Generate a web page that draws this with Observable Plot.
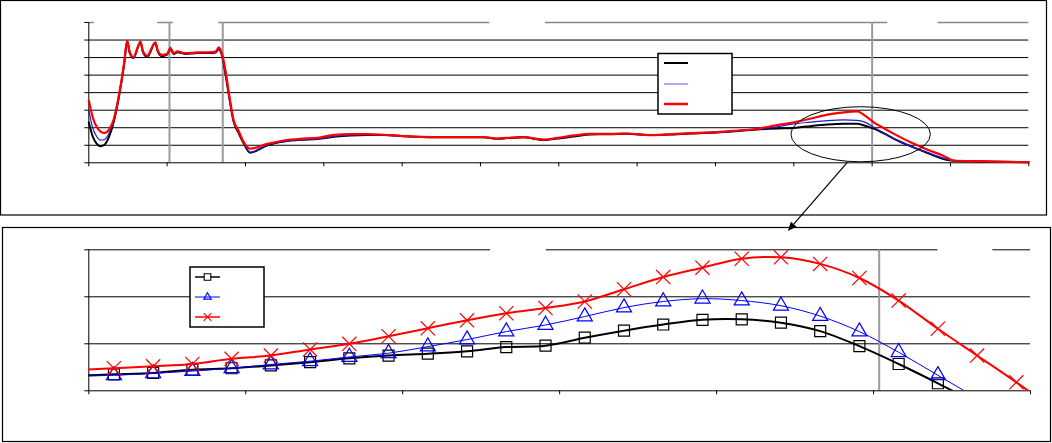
<!DOCTYPE html>
<html><head><meta charset="utf-8">
<script src="https://cdn.jsdelivr.net/npm/d3@7"></script>
<script src="https://cdn.jsdelivr.net/npm/@observablehq/plot@0.6"></script>
<style>
body{margin:0;background:#fff;}
#wrap{position:relative;width:1052px;height:443px;overflow:hidden;background:#fff;font-family:"Liberation Sans",Arial,sans-serif;}
</style></head><body><div id="wrap"></div>
<script>
// ---------- top panel (overview) ----------
const topX = [
  0, 0.05, 0.10, 0.15, 0.20, 0.26, 0.32, 0.38, 0.45, 0.49, 0.52,
  0.57, 0.66, 0.69, 0.745, 0.85, 0.88, 0.93, 1.0, 1.04, 1.085, 1.13, 1.23,
  1.32, 1.40, 1.53, 1.62, 1.66, 1.70, 1.745, 1.79, 1.85, 1.91,
  1.98, 2.06, 2.28, 2.49, 2.70, 2.92, 3.13, 3.34, 3.55, 3.77,
  3.98, 4.40, 4.83, 5.04, 5.21, 5.34, 5.55, 5.81, 5.98, 6.19,
  6.40, 6.66, 6.87, 7.17, 7.40, 7.68, 8.11, 8.53, 8.79, 9.00,
  9.21, 9.43, 9.64, 9.81, 9.90, 10.02, 10.15, 10.28, 10.49, 10.70,
  10.92, 11.04, 11.34, 12.0];
const topRed = [
  3.55, 2.60, 2.05, 1.78, 1.70, 1.90, 2.50, 3.74, 5.64, 6.97, 6.35,
  6.02, 6.91, 6.38, 6.11, 6.87, 6.40, 6.15, 6.21, 6.55, 6.25, 6.36, 6.25,
  6.27, 6.30, 6.30, 6.34, 6.59, 6.21, 5.26, 3.93, 2.41, 1.84,
  1.17, 0.80, 1.08, 1.27, 1.37, 1.42, 1.59, 1.63, 1.63, 1.60,
  1.54, 1.46, 1.46, 1.46, 1.38, 1.42, 1.46, 1.33, 1.42, 1.56,
  1.65, 1.65, 1.67, 1.58, 1.62, 1.69, 1.78, 1.94, 2.15, 2.31,
  2.51, 2.75, 2.88, 2.93, 2.72, 2.31, 1.97, 1.65, 1.17, 0.76,
  0.38, 0.13, 0.09, 0.03];
const topBlue = [
  2.98, 2.00, 1.50, 1.29, 1.33, 1.70, 2.45, 3.70, 5.60, 6.95, 6.32,
  6.00, 6.90, 6.35, 6.06, 6.85, 6.37, 6.10, 6.18, 6.50, 6.22, 6.32, 6.22,
  6.24, 6.27, 6.27, 6.30, 6.52, 6.15, 5.10, 3.85, 2.35, 1.75,
  1.10, 0.60, 1.02, 1.22, 1.32, 1.36, 1.50, 1.57, 1.60, 1.58,
  1.53, 1.46, 1.45, 1.45, 1.37, 1.41, 1.45, 1.31, 1.40, 1.52,
  1.63, 1.64, 1.66, 1.58, 1.61, 1.67, 1.75, 1.90, 2.05, 2.22,
  2.32, 2.41, 2.45, 2.42, 2.33, 2.03, 1.70, 1.37, 0.95, 0.60,
  0.25, 0.12, 0.08, 0.03];
const topBlack = [
  2.31, 1.50, 1.10, 0.95, 1.02, 1.50, 2.35, 3.65, 5.58, 6.94, 6.30,
  5.98, 6.88, 6.33, 6.04, 6.84, 6.35, 6.08, 6.17, 6.48, 6.21, 6.30, 6.21,
  6.23, 6.26, 6.26, 6.29, 6.48, 6.12, 5.05, 3.80, 2.32, 1.72,
  1.08, 0.58, 1.00, 1.21, 1.31, 1.35, 1.48, 1.56, 1.59, 1.58,
  1.53, 1.46, 1.45, 1.45, 1.37, 1.41, 1.45, 1.30, 1.38, 1.50,
  1.62, 1.63, 1.66, 1.58, 1.61, 1.67, 1.75, 1.90, 1.96, 1.99,
  2.09, 2.18, 2.22, 2.22, 2.13, 1.95, 1.68, 1.37, 0.95, 0.57,
  0.20, 0.12, 0.08, 0.03];
const topXTicks = [0,1,2,3,4,5,6,7,8,9,10,11,12];
const topYTicks = [0,1,2,3,4,5,6,7,8];
const topGrid = [1,2,3,4,5,6,7];
const topDividers = [1.03, 1.71, 10];
const topTopStart = [0, 0.88, 1.66, 5.83, 10.84];
const topTopEnd = [0.073, 1.08, 5.12, 10.20, 12];

// ---------- bottom panel (zoom) ----------
const zoomX = [-0.09, 0.16, 0.41, 0.66, 0.91, 1.16, 1.41, 1.66, 1.91, 2.16, 2.41, 2.66, 2.91,
  3.16, 3.41, 3.66, 3.91, 4.16, 4.41, 4.66, 4.91, 5.16, 5.41, 5.66, 5.91, 6.16];
const zoomBlack = [0.32, 0.35, 0.38, 0.45, 0.48, 0.54, 0.61, 0.69, 0.75, 0.79, 0.84, 0.93, 0.96,
  1.13, 1.28, 1.41, 1.51, 1.52, 1.45, 1.27, 0.95, 0.57, 0.16, -0.27, -0.70, -1.10];
const zoomBlue = [0.31, 0.33, 0.37, 0.42, 0.48, 0.56, 0.63, 0.72, 0.80, 0.94, 1.09, 1.26, 1.40,
  1.58, 1.77, 1.90, 1.96, 1.92, 1.81, 1.59, 1.26, 0.82, 0.33, -0.16, -0.65, -1.10];
const zoomRed = [0.44, 0.48, 0.52, 0.57, 0.68, 0.75, 0.88, 1.00, 1.16, 1.33, 1.50, 1.65, 1.76,
  1.90, 2.16, 2.42, 2.62, 2.81, 2.84, 2.70, 2.40, 1.92, 1.32, 0.75, 0.18, -0.42];
const zoomXTicks = [0,1,2,3,4,5,6];
const zoomYTicks = [0,1,2,3];
const zoomGrid = [1,2];
const zoomDividers = [5.036];
const zoomTopStart = [0, 2.915, 5.76];
const zoomTopEnd = [2.56, 5.41, 6];

const colBlack = "#000000", colBlue = "#0000ff", colRed = "#ff0000";

const wrap = document.getElementById("wrap");

const rows = (xs, ys) => xs.map((x, i) => ({x, y: ys[i]}));
const segs = (s, e, y) => s.map((v, i) => ({x1: v, x2: e[i], y}));

const topPlot = Plot.plot({
  width: 1052, height: 215,
  marginLeft: 88.3, marginRight: 23.7, marginTop: 22, marginBottom: 52.7,
  x: {domain: [0, 12]},
  y: {domain: [0, 8]},
  marks: [
    Plot.ruleY(topGrid, {stroke: "#000", strokeWidth: 1}),
    Plot.ruleY(segs(topTopStart, topTopEnd, 8), {x1: "x1", x2: "x2", y: "y", stroke: "#888", strokeWidth: 1.5}),
    Plot.ruleX(topDividers, {stroke: "#9a9a9a", strokeWidth: 2}),
    Plot.ruleX([0], {stroke: "#000"}),
    Plot.ruleY([0], {stroke: "#000"}),
    Plot.axisY({ticks: topYTicks, tickSize: 4, fill: "none", stroke: "#000"}),
    Plot.axisX({ticks: topXTicks, tickSize: 4, fill: "none", stroke: "#000"}),
    Plot.line(rows(topX, topBlack), {x: "x", y: "y", stroke: colBlack, strokeWidth: 2, curve: "monotone-x"}),
    Plot.line(rows(topX, topBlue), {x: "x", y: "y", stroke: "#1a1ad8", strokeWidth: 1.2, curve: "monotone-x"}),
    Plot.line(rows(topX, topRed), {x: "x", y: "y", stroke: colRed, strokeWidth: 2.2, curve: "monotone-x"})
  ]
});
topPlot.style.position = "absolute";
topPlot.style.left = "0px";
topPlot.style.top = "0px";
topPlot.style.background = "transparent";
wrap.appendChild(topPlot);

const inDomain = d => d.x >= 0 && d.x <= 6 && d.y >= 0;
const bottomPlot = Plot.plot({
  width: 1052, height: 216,
  marginLeft: 88.3, marginRight: 22, marginTop: 22.3, marginBottom: 52.7,
  x: {domain: [0, 6]},
  y: {domain: [0, 3]},
  marks: [
    Plot.ruleY(zoomGrid, {stroke: "#000", strokeWidth: 1}),
    Plot.ruleY(segs(zoomTopStart, zoomTopEnd, 3), {x1: "x1", x2: "x2", y: "y", stroke: "#000", strokeWidth: 1}),
    Plot.ruleX(zoomDividers, {stroke: "#9a9a9a", strokeWidth: 2}),
    Plot.ruleX([0], {stroke: "#000"}),
    Plot.ruleY([0], {stroke: "#000"}),
    Plot.axisY({ticks: zoomYTicks, tickSize: 4, fill: "none", stroke: "#000"}),
    Plot.axisX({ticks: zoomXTicks, tickSize: 4, fill: "none", stroke: "#000"}),
    Plot.line(rows(zoomX, zoomBlack), {x: "x", y: "y", stroke: colBlack, strokeWidth: 2, curve: "catmull-rom", clip: true}),
    Plot.dot(rows(zoomX, zoomBlack).filter(inDomain), {x: "x", y: "y", symbol: "square", r: 6.2, stroke: colBlack, strokeWidth: 1.2, fill: "none"}),
    Plot.line(rows(zoomX, zoomBlue), {x: "x", y: "y", stroke: colBlue, strokeWidth: 1, curve: "catmull-rom", clip: true}),
    Plot.dot(rows(zoomX, zoomBlue).filter(inDomain), {x: "x", y: "y", symbol: "triangle", r: 5.6, stroke: colBlue, strokeWidth: 1.2, fill: "none"}),
    Plot.line(rows(zoomX, zoomRed), {x: "x", y: "y", stroke: colRed, strokeWidth: 2, curve: "catmull-rom", clip: true}),
    Plot.dot(rows(zoomX, zoomRed).filter(inDomain), {x: "x", y: "y", symbol: "times", r: 6.5, stroke: colRed, strokeWidth: 1.2})
  ]
});
bottomPlot.style.position = "absolute";
bottomPlot.style.left = "0px";
bottomPlot.style.top = "227px";
bottomPlot.style.background = "transparent";
wrap.appendChild(bottomPlot);

// ---------- overlay: frames, legends, ellipse, arrow ----------
const ov = d3.create("svg").attr("width", 1052).attr("height", 443)
  .style("position", "absolute").style("left", "0px").style("top", "0px");
ov.append("rect").attr("x", 0.5).attr("y", 0.5).attr("width", 1046).attr("height", 214.5)
  .attr("fill", "none").attr("stroke", "#000").attr("stroke-width", 1.2);
ov.append("rect").attr("x", 2.5).attr("y", 227.5).attr("width", 1048).attr("height", 214)
  .attr("fill", "none").attr("stroke", "#000").attr("stroke-width", 1.2);

// top legend
ov.append("rect").attr("x", 658).attr("y", 53.5).attr("width", 74).attr("height", 60.5)
  .attr("fill", "#fff").attr("stroke", "#000").attr("stroke-width", 1.5);
[[63, colBlack, 2], [84, "#5555dd", 1], [104, colRed, 2.5]].forEach(([y, c, w]) => {
  ov.append("line").attr("x1", 664).attr("x2", 688).attr("y1", y).attr("y2", y).attr("stroke", c).attr("stroke-width", w);
});

// bottom legend
ov.append("rect").attr("x", 190).attr("y", 267).attr("width", 74).attr("height", 60)
  .attr("fill", "#fff").attr("stroke", "#000").attr("stroke-width", 1.5);
[[277, colBlack, 1.5, d3.symbolSquare, 44], [297, colBlue, 1, d3.symbolTriangle2, 40], [317, colRed, 1.5, d3.symbolTimes, 40]].forEach(([y, c, w, sym, size]) => {
  ov.append("line").attr("x1", 195).attr("x2", 220).attr("y1", y).attr("y2", y).attr("stroke", c).attr("stroke-width", w);
  ov.append("path").attr("d", d3.symbol(sym, size)()).attr("transform", `translate(207.5,${y})`)
    .attr("fill", sym === d3.symbolSquare ? "#fff" : "none").attr("stroke", c).attr("stroke-width", 1.1);
});

// ellipse marking the zoomed region on the top panel
const txs = topPlot.scale("x"), tys = topPlot.scale("y");
const bxs = bottomPlot.scale("x"), bys = bottomPlot.scale("y");
const ecx = txs.apply(9.86), ecy = tys.apply(1.6);
const erx = txs.apply(9.86 + 0.89) - ecx, ery = tys.apply(1.6) - tys.apply(1.6 + 1.57);
ov.append("ellipse").attr("cx", ecx).attr("cy", ecy).attr("rx", erx).attr("ry", ery)
  .attr("fill", "none").attr("stroke", "#000").attr("stroke-width", 1);

// arrow from ellipse to the zoom panel
const ax1 = txs.apply(9.69), ay1 = tys.apply(0);
const ax2 = bxs.apply(4.457), ay2 = 227 + bys.apply(3.39);
const ang = Math.atan2(ay2 - ay1, ax2 - ax1);
const hl = 9, hw = 3.8;
const bx = ax2 - hl * Math.cos(ang), by = ay2 - hl * Math.sin(ang);
ov.append("line").attr("x1", ax1).attr("y1", ay1).attr("x2", bx).attr("y2", by)
  .attr("stroke", "#000").attr("stroke-width", 1.2);
ov.append("polygon").attr("points", [
  [ax2, ay2],
  [bx + hw * Math.sin(ang), by - hw * Math.cos(ang)],
  [bx - hw * Math.sin(ang), by + hw * Math.cos(ang)]
].map(p => p.join(",")).join(" ")).attr("fill", "#000");

wrap.appendChild(ov.node());
</script></body></html>
